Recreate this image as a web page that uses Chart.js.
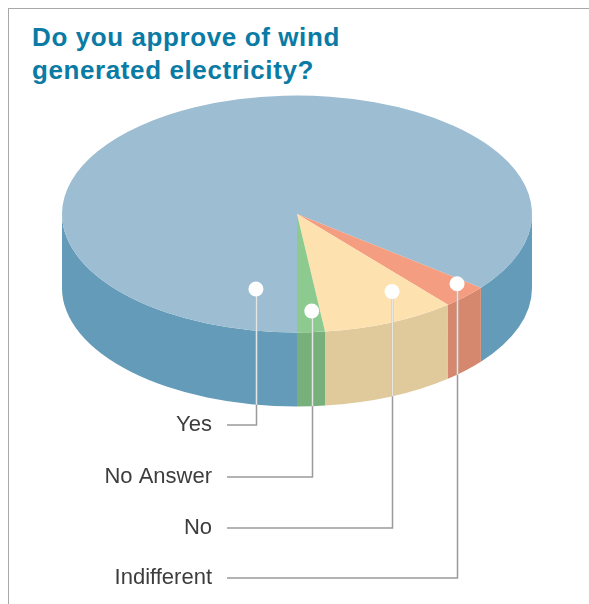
<!DOCTYPE html>
<html>
<head>
<meta charset="utf-8">
<script src="https://cdn.jsdelivr.net/npm/chart.js@4.4.1/dist/chart.umd.min.js"></script>
<style>
  html, body { margin: 0; padding: 0; background: #ffffff; }
  body { width: 589px; height: 604px; position: relative; overflow: hidden; }
  #frame { position: absolute; left: 8px; top: 8px; width: 600px; height: 620px;
           border-top: 1px solid #a8a8a8; border-left: 1px solid #a8a8a8; }
  #title { position: absolute; left: 32px; top: 21px; margin: 0;
           font-family: "Liberation Sans", Arial, sans-serif; font-weight: bold;
           font-size: 26px; line-height: 33px; letter-spacing: 0.6px; color: #0a7ba4; }
  #c { position: absolute; left: 0; top: 0; }
</style>
</head>
<body>
<div id="frame"></div>
<h1 id="title">Do you approve of wind<br>generated electricity?</h1>
<canvas id="c" width="589" height="604"></canvas>
<script>
// ---- data (drawing order, clockwise from the front) ----
const categories = ['Yes', 'Indifferent', 'No', 'No Answer'];
const values     = [85.7, 3.2, 9.2, 1.9];
// order in which the labels are listed (top to bottom)
const labelOrder = ['Yes', 'No Answer', 'No', 'Indifferent'];

// ---- styles ----
const topColors  = ['#9dbdd3', '#f59d80', '#fde2b0', '#8cca8f'];
const wallColors = ['#639bb8', '#d6886f', '#e0c99b', '#77b07a'];
// where on each slice the marker sits: fraction of slice span, fraction of radius
const anchorT = [0.05, 0.2, 0.25, 0.36];
const anchorR = [0.657, 0.90, 0.77, 0.821];
const labelRowsY = [425, 477, 528, 578];
const labelRight = 212, leaderStart = 227;

const tilt = {
  id: 'tilt',
  beforeDatasetsDraw(chart, args, o) {
    const ctx = chart.ctx;
    const meta = chart.getDatasetMeta(0);
    const a0 = meta.data[0];
    const cx = a0.x, R = a0.outerRadius, k = o.squash, ty = o.centerY, d = o.depth;
    // side walls (front half only)
    meta.data.forEach((arc, i) => {
      const a = arc.startAngle, b = arc.endAngle;
      for (let n = -1; n <= 1; n++) {
        const lo = Math.max(a, 2 * Math.PI * n), hi = Math.min(b, 2 * Math.PI * n + Math.PI);
        if (hi > lo) {
          ctx.save();
          ctx.beginPath();
          ctx.ellipse(cx, ty, R, R * k, 0, lo, hi, false);
          ctx.ellipse(cx, ty + d, R, R * k, 0, hi, lo, true);
          ctx.closePath();
          ctx.fillStyle = wallColors[i];
          ctx.fill();
          ctx.restore();
        }
      }
    });
    ctx.save();
    ctx.translate(0, ty);
    ctx.scale(1, k);
    ctx.translate(0, -a0.y);
  },
  afterDatasetsDraw(chart) {
    chart.ctx.restore();
  },
  afterDraw(chart, args, o) {
    const ctx = chart.ctx;
    const meta = chart.getDatasetMeta(0);
    const a0 = meta.data[0];
    const cx = a0.x, R = a0.outerRadius, k = o.squash, ty = o.centerY, d = o.depth;
    ctx.save();
    meta.data.forEach((arc, i) => {
      const ang = arc.startAngle + anchorT[i] * (arc.endAngle - arc.startAngle);
      const px = cx + Math.cos(ang) * R * anchorR[i];
      const py = ty + Math.sin(ang) * R * anchorR[i] * k;
      const row = labelOrder.indexOf(categories[i]);
      const ly = labelRowsY[row];
      // label
      ctx.font = '22px "Liberation Sans", Arial, sans-serif';
      ctx.fillStyle = '#3d3d3d';
      ctx.textAlign = 'right';
      ctx.textBaseline = 'middle';
      ctx.fillText(categories[i], labelRight, ly);
      // leader line
      const xr = Math.round(px) + 0.5;
      ctx.lineWidth = 1.5;
      ctx.strokeStyle = '#9a9a9a';
      ctx.beginPath();
      ctx.moveTo(leaderStart, ly);
      ctx.lineTo(xr, ly);
      ctx.lineTo(xr, py);
      ctx.stroke();
      const u = (px - cx) / R;
      const bottom = ty + d + R * k * Math.sqrt(Math.max(0, 1 - u * u));
      ctx.strokeStyle = '#e6e6e6';
      ctx.beginPath();
      ctx.moveTo(xr, bottom);
      ctx.lineTo(xr, py);
      ctx.stroke();
      // marker
      ctx.beginPath();
      ctx.arc(px, py, 7.5, 0, Math.PI * 2);
      ctx.fillStyle = '#ffffff';
      ctx.fill();
    });
    ctx.restore();
  }
};

new Chart(document.getElementById('c'), {
  type: 'pie',
  data: {
    labels: categories,
    datasets: [{
      data: values,
      backgroundColor: topColors,
      borderWidth: 0,
      hoverOffset: 0,
      offset: 0
    }]
  },
  options: {
    responsive: false,
    animation: false,
    events: [],
    rotation: 180,
    layout: { padding: { left: 62, right: 57, top: 0, bottom: 0 } },
    plugins: {
      legend: { display: false },
      tooltip: { enabled: false },
      tilt: { squash: 0.504, centerY: 214, depth: 74 }
    }
  },
  plugins: [tilt]
});
</script>
</body>
</html>
